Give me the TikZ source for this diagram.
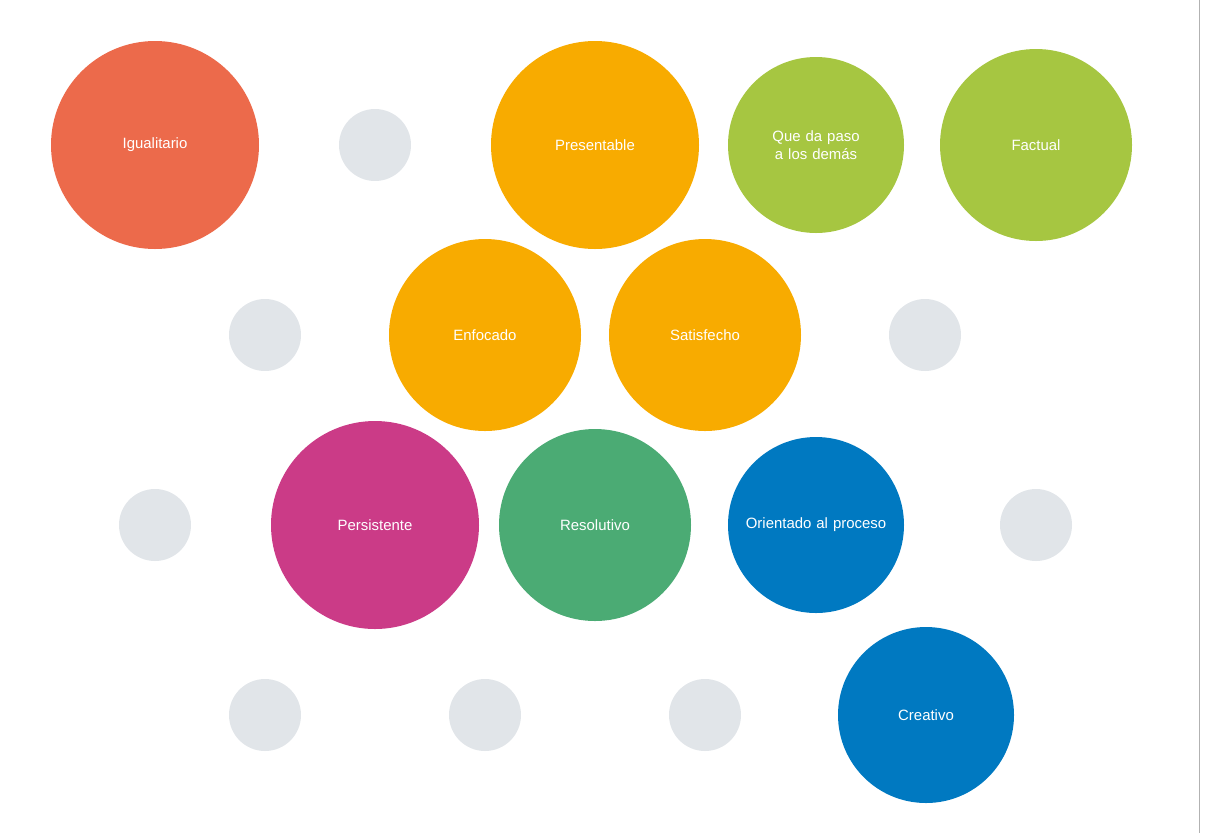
\documentclass[tikz,border=0pt]{standalone}
\usepackage{fontspec}
\setmainfont{Liberation Sans}
\definecolor{cred}{HTML}{EC6A4B}
\definecolor{cgray}{HTML}{E1E5E9}
\definecolor{corange}{HTML}{F8AB00}
\definecolor{clime}{HTML}{A6C641}
\definecolor{cpink}{HTML}{CB3B87}
\definecolor{cgreen}{HTML}{4BAB74}
\definecolor{cblue}{HTML}{0079C1}
\begin{document}
\begin{tikzpicture}[x=0.02cm,y=-0.02cm,
  bub/.style={circle,inner sep=0pt,text=white,font=\fontsize{8.5}{10}\selectfont,align=center,text width=150*0.02cm},
  dot/.style={circle,fill=cgray,minimum size=72*0.02cm,inner sep=0pt}]
\useasboundingbox (0,0) rectangle (1210,833);
\draw[gray!60] (1199,0) -- (1199,833);
\node[bub,fill=cred,minimum size=208*0.02cm] (a) at (155,145) {Igualitario};
\node[dot] (g1) at (375,145) {};
\node[bub,fill=corange,minimum size=208*0.02cm] (b) at (595,145) {Presentable};
\node[bub,fill=clime,minimum size=176*0.02cm,text width=140*0.02cm] (c) at (816,145) {Que da paso a los demás};
\node[bub,fill=clime,minimum size=192*0.02cm] (d) at (1036,145) {Factual};
\node[dot] (g2) at (265,335) {};
\node[bub,fill=corange,minimum size=192*0.02cm] (e) at (485,335) {Enfocado};
\node[bub,fill=corange,minimum size=192*0.02cm] (f) at (705,335) {Satisfecho};
\node[dot] (g3) at (925,335) {};
\node[dot] (g4) at (155,525) {};
\node[bub,fill=cpink,minimum size=208*0.02cm] (h) at (375,525) {Persistente};
\node[bub,fill=cgreen,minimum size=192*0.02cm] (i) at (595,525) {Resolutivo};
\node[bub,fill=cblue,minimum size=176*0.02cm] (j) at (816,525) {Orientado al proceso};
\node[dot] (g5) at (1036,525) {};
\node[dot] (g6) at (265,715) {};
\node[dot] (g7) at (485,715) {};
\node[dot] (g8) at (705,715) {};
\node[bub,fill=cblue,minimum size=176*0.02cm] (k) at (926,715) {Creativo};
\end{tikzpicture}
\end{document}
